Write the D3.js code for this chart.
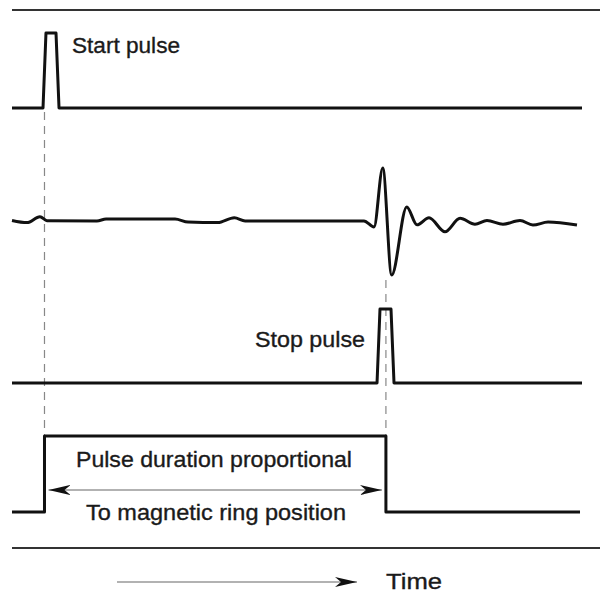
<!DOCTYPE html>
<html lang="en">
  <head>
    <meta charset="utf-8">
    <title>Magnetostrictive timing</title>
    <script src="https://d3js.org/d3.v7.min.js"></script>
    <style>
      body { margin: 0; background: #fff; }
      text { font-family: "Liberation Sans", Arial, sans-serif; fill: #1a1a1a; stroke: #1a1a1a; stroke-width: 0.35; }
    </style>
  </head>
<body>

<script>
// time axis is arbitrary units 0..100
var startPulseT = [0, 5.44, 5.96, 7.72, 8.25, 100];
var startPulseV = [0, 0, 1, 1, 0, 0];

var echoT = [0, 2.63, 4.91, 6.14, 14.9, 16.5, 28.6, 30.9, 36.1, 39.0, 40.9, 61.75, 63.51,
             65.04, 66.61, 69.25, 71.05, 73.16, 75.96, 78.6, 81.23, 83.33, 86.14, 89.12, 91.4, 94.04, 99.12];
var echoV = [0.01, -0.03, 0.08, 0.005, 0, 0.035, 0.035, -0.02, -0.03, 0.06, 0, 0, -0.11,
             0.98, -1.0, 0.26, -0.07, 0.06, -0.2, 0.05, -0.06, 0.01, -0.06, 0.01, -0.075, -0.02, -0.075];

var stopPulseT = [0, 64.04, 64.56, 66.49, 67.02, 100];
var stopPulseV = [0, 0, 1, 1, 0, 0];

var gateT = [0, 5.7, 5.7, 65.6, 65.6, 99.65];
var gateV = [0, 0, 1, 1, 0, 0];

var markers = [5.7, 65.6];
var labels = ["Start pulse", "Stop pulse", "Pulse duration proportional", "To magnetic ring position", "Time"];

var svg = d3.select("body")
    .append("svg")
    .attr("width", 614)
    .attr("height", 595);

var x = d3.scaleLinear().domain([0, 100]).range([12, 582]);
var yStart = d3.scaleLinear().domain([0, 1]).range([108, 33]);
var yEcho = d3.scaleLinear().domain([-1, 1]).range([275, 167]);
var yStop = d3.scaleLinear().domain([0, 1]).range([383, 309]);
var yGate = d3.scaleLinear().domain([0, 1]).range([512, 436]);

function zip(ts, vs) { return ts.map((t, i) => [t, vs[i]]); }

var defs = svg.append("defs");
defs.append("marker")
    .attr("id", "head")
    .attr("viewBox", "0 0 22 10")
    .attr("refX", 22).attr("refY", 5)
    .attr("markerWidth", 22).attr("markerHeight", 10)
    .attr("markerUnits", "userSpaceOnUse")
    .attr("orient", "auto-start-reverse")
    .append("path")
    .attr("d", "M0,0 L22,5 L0,10 L6,5 Z")
    .attr("fill", "#111");

// frame lines
svg.append("line").attr("x1", 12).attr("x2", 600).attr("y1", 10).attr("y2", 10)
    .attr("stroke", "#333").attr("stroke-width", 2);
svg.append("line").attr("x1", 12).attr("x2", 600).attr("y1", 548).attr("y2", 548)
    .attr("stroke", "#333").attr("stroke-width", 2);

// dashed marker lines
svg.selectAll(".marker")
    .data(markers)
    .join("line")
    .attr("class", "marker")
    .attr("x1", d => x(d)).attr("x2", d => x(d))
    .attr("y1", (d, i) => i == 0 ? 112 : 280)
    .attr("y2", 436)
    .attr("stroke", "#888")
    .attr("stroke-width", 1.2)
    .attr("stroke-dasharray", "8,6");

function trace(ts, vs, yScale, curve) {
    var line = d3.line()
        .x(d => x(d[0]))
        .y(d => yScale(d[1]))
        .curve(curve || d3.curveLinear);
    svg.append("path")
        .datum(zip(ts, vs))
        .attr("d", line)
        .attr("fill", "none")
        .attr("stroke", "#111")
        .attr("stroke-width", 3)
        .attr("stroke-linejoin", "round");
}

trace(startPulseT, startPulseV, yStart);
trace(echoT, echoV, yEcho, d3.curveMonotoneX);
trace(stopPulseT, stopPulseV, yStop);
trace(gateT, gateV, yGate);

// double arrow inside gate
svg.append("line")
    .attr("x1", x(markers[0]) + 4).attr("x2", x(markers[1]) - 4)
    .attr("y1", 490).attr("y2", 490)
    .attr("stroke", "#999").attr("stroke-width", 1.5)
    .attr("marker-start", "url(#head)")
    .attr("marker-end", "url(#head)");

// time arrow
svg.append("line")
    .attr("x1", 117).attr("x2", 357)
    .attr("y1", 582).attr("y2", 582)
    .attr("stroke", "#999").attr("stroke-width", 1.5)
    .attr("marker-end", "url(#head)");

var fs = 22;
function label(txt, lx, ly, len, size) {
    svg.append("text")
        .attr("x", lx).attr("y", ly)
        .attr("font-size", size || fs)
        .attr("textLength", len)
        .attr("lengthAdjust", "spacingAndGlyphs")
        .text(txt);
}
label(labels[0], 72, 53, 108);
label(labels[1], 255, 347, 110);
label(labels[2], 76, 467, 276);
label(labels[3], 86, 520, 260);
label(labels[4], 386, 589, 56);
</script>
</body>
</html>
